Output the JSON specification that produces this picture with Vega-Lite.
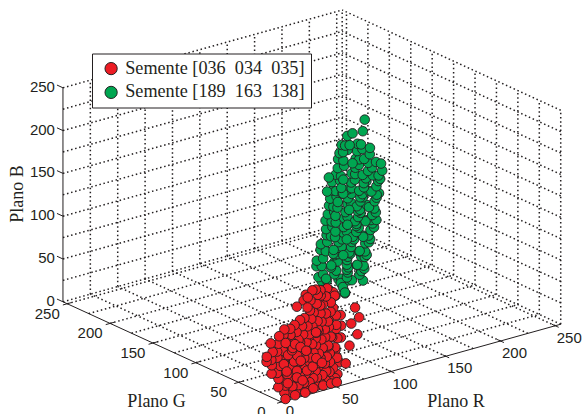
{"$schema":"https://vega.github.io/schema/vega-lite/v6.json","width":584,"height":414,"autosize":"none","padding":0,"background":"white","config":{"view":{"stroke":null}},
"datasets":{
"gridlines":[
{"r1":25,"g1":0,"b1":0,"r2":25,"g2":255,"b2":0},{"r1":50,"g1":0,"b1":0,"r2":50,"g2":255,"b2":0},{"r1":75,"g1":0,"b1":0,"r2":75,"g2":255,"b2":0},{"r1":100,"g1":0,"b1":0,"r2":100,"g2":255,"b2":0},{"r1":125,"g1":0,"b1":0,"r2":125,"g2":255,"b2":0},{"r1":150,"g1":0,"b1":0,"r2":150,"g2":255,"b2":0},{"r1":175,"g1":0,"b1":0,"r2":175,"g2":255,"b2":0},{"r1":200,"g1":0,"b1":0,"r2":200,"g2":255,"b2":0},{"r1":225,"g1":0,"b1":0,"r2":225,"g2":255,"b2":0},{"r1":250,"g1":0,"b1":0,"r2":250,"g2":255,"b2":0},{"r1":255,"g1":0,"b1":0,"r2":255,"g2":255,"b2":0},
{"r1":0,"g1":25,"b1":0,"r2":255,"g2":25,"b2":0},{"r1":0,"g1":50,"b1":0,"r2":255,"g2":50,"b2":0},{"r1":0,"g1":75,"b1":0,"r2":255,"g2":75,"b2":0},{"r1":0,"g1":100,"b1":0,"r2":255,"g2":100,"b2":0},{"r1":0,"g1":125,"b1":0,"r2":255,"g2":125,"b2":0},{"r1":0,"g1":150,"b1":0,"r2":255,"g2":150,"b2":0},{"r1":0,"g1":175,"b1":0,"r2":255,"g2":175,"b2":0},{"r1":0,"g1":200,"b1":0,"r2":255,"g2":200,"b2":0},{"r1":0,"g1":225,"b1":0,"r2":255,"g2":225,"b2":0},{"r1":0,"g1":250,"b1":0,"r2":255,"g2":250,"b2":0},{"r1":0,"g1":255,"b1":0,"r2":255,"g2":255,"b2":0},
{"r1":25,"g1":255,"b1":0,"r2":25,"g2":255,"b2":250},{"r1":50,"g1":255,"b1":0,"r2":50,"g2":255,"b2":250},{"r1":75,"g1":255,"b1":0,"r2":75,"g2":255,"b2":250},{"r1":100,"g1":255,"b1":0,"r2":100,"g2":255,"b2":250},{"r1":125,"g1":255,"b1":0,"r2":125,"g2":255,"b2":250},{"r1":150,"g1":255,"b1":0,"r2":150,"g2":255,"b2":250},{"r1":175,"g1":255,"b1":0,"r2":175,"g2":255,"b2":250},{"r1":200,"g1":255,"b1":0,"r2":200,"g2":255,"b2":250},{"r1":225,"g1":255,"b1":0,"r2":225,"g2":255,"b2":250},{"r1":250,"g1":255,"b1":0,"r2":250,"g2":255,"b2":250},{"r1":255,"g1":255,"b1":0,"r2":255,"g2":255,"b2":250},
{"r1":0,"g1":255,"b1":25,"r2":255,"g2":255,"b2":25},{"r1":0,"g1":255,"b1":50,"r2":255,"g2":255,"b2":50},{"r1":0,"g1":255,"b1":75,"r2":255,"g2":255,"b2":75},{"r1":0,"g1":255,"b1":100,"r2":255,"g2":255,"b2":100},{"r1":0,"g1":255,"b1":125,"r2":255,"g2":255,"b2":125},{"r1":0,"g1":255,"b1":150,"r2":255,"g2":255,"b2":150},{"r1":0,"g1":255,"b1":175,"r2":255,"g2":255,"b2":175},{"r1":0,"g1":255,"b1":200,"r2":255,"g2":255,"b2":200},{"r1":0,"g1":255,"b1":225,"r2":255,"g2":255,"b2":225},{"r1":0,"g1":255,"b1":250,"r2":255,"g2":255,"b2":250},
{"r1":255,"g1":0,"b1":0,"r2":255,"g2":0,"b2":250},{"r1":255,"g1":25,"b1":0,"r2":255,"g2":25,"b2":250},{"r1":255,"g1":50,"b1":0,"r2":255,"g2":50,"b2":250},{"r1":255,"g1":75,"b1":0,"r2":255,"g2":75,"b2":250},{"r1":255,"g1":100,"b1":0,"r2":255,"g2":100,"b2":250},{"r1":255,"g1":125,"b1":0,"r2":255,"g2":125,"b2":250},{"r1":255,"g1":150,"b1":0,"r2":255,"g2":150,"b2":250},{"r1":255,"g1":175,"b1":0,"r2":255,"g2":175,"b2":250},{"r1":255,"g1":200,"b1":0,"r2":255,"g2":200,"b2":250},{"r1":255,"g1":225,"b1":0,"r2":255,"g2":225,"b2":250},{"r1":255,"g1":250,"b1":0,"r2":255,"g2":250,"b2":250},
{"r1":255,"g1":0,"b1":25,"r2":255,"g2":255,"b2":25},{"r1":255,"g1":0,"b1":50,"r2":255,"g2":255,"b2":50},{"r1":255,"g1":0,"b1":75,"r2":255,"g2":255,"b2":75},{"r1":255,"g1":0,"b1":100,"r2":255,"g2":255,"b2":100},{"r1":255,"g1":0,"b1":125,"r2":255,"g2":255,"b2":125},{"r1":255,"g1":0,"b1":150,"r2":255,"g2":255,"b2":150},{"r1":255,"g1":0,"b1":175,"r2":255,"g2":255,"b2":175},{"r1":255,"g1":0,"b1":200,"r2":255,"g2":255,"b2":200},{"r1":255,"g1":0,"b1":225,"r2":255,"g2":255,"b2":225},{"r1":255,"g1":0,"b1":250,"r2":255,"g2":255,"b2":250}
],
"axislines":[
{"r1":0,"g1":0,"b1":0,"r2":255,"g2":0,"b2":0},{"r1":0,"g1":0,"b1":0,"r2":0,"g2":255,"b2":0},{"r1":0,"g1":255,"b1":0,"r2":0,"g2":255,"b2":250},
{"r1":-4,"g1":0,"b1":0,"r2":3,"g2":0,"b2":0},{"r1":-4,"g1":50,"b1":0,"r2":4,"g2":50,"b2":0},{"r1":-4,"g1":100,"b1":0,"r2":4,"g2":100,"b2":0},{"r1":-4,"g1":150,"b1":0,"r2":4,"g2":150,"b2":0},{"r1":-4,"g1":200,"b1":0,"r2":4,"g2":200,"b2":0},{"r1":-4,"g1":250,"b1":0,"r2":4,"g2":250,"b2":0},
{"r1":50,"g1":-4,"b1":0,"r2":50,"g2":4,"b2":0},{"r1":100,"g1":-4,"b1":0,"r2":100,"g2":4,"b2":0},{"r1":150,"g1":-4,"b1":0,"r2":150,"g2":4,"b2":0},{"r1":200,"g1":-4,"b1":0,"r2":200,"g2":4,"b2":0},{"r1":250,"g1":-4,"b1":0,"r2":250,"g2":4,"b2":0},
{"r1":0,"g1":255,"b1":0,"r2":0,"g2":262,"b2":0},{"r1":0,"g1":255,"b1":50,"r2":0,"g2":262,"b2":50},{"r1":0,"g1":255,"b1":100,"r2":0,"g2":262,"b2":100},{"r1":0,"g1":255,"b1":150,"r2":0,"g2":262,"b2":150},{"r1":0,"g1":255,"b1":200,"r2":0,"g2":262,"b2":200},{"r1":0,"g1":255,"b1":250,"r2":0,"g2":262,"b2":250}
],
"pts":[
{"seed":"189","R":107,"G":90,"B":62},{"seed":"189","R":104,"G":80,"B":68},{"seed":"189","R":110,"G":74,"B":70},{"seed":"189","R":106,"G":66,"B":76},{"seed":"189","R":108,"G":60,"B":76},{"seed":"189","R":105,"G":52,"B":81},{"seed":"189","R":112,"G":48,"B":80},{"seed":"189","R":109,"G":70,"B":68},{"seed":"189","R":103,"G":60,"B":70},{"seed":"189","R":100,"G":72,"B":62},{"seed":"189","R":105,"G":60,"B":62},{"seed":"189","R":102,"G":74,"B":56},{"seed":"189","R":98,"G":78,"B":60},{"seed":"189","R":101,"G":66,"B":58},{"seed":"189","R":108,"G":64,"B":60},
{"seed":"189","R":112,"G":100,"B":60},{"seed":"189","R":110,"G":92,"B":68},{"seed":"189","R":114,"G":84,"B":70},{"seed":"189","R":111,"G":78,"B":78},{"seed":"189","R":113,"G":68,"B":74},{"seed":"189","R":109,"G":62,"B":84},{"seed":"189","R":115,"G":56,"B":82},{"seed":"189","R":112,"G":50,"B":90},{"seed":"189","R":108,"G":86,"B":66},{"seed":"189","R":116,"G":72,"B":80},
{"seed":"189","R":118,"G":110,"B":66},{"seed":"189","R":115,"G":100,"B":72},{"seed":"189","R":120,"G":92,"B":78},{"seed":"189","R":117,"G":84,"B":84},{"seed":"189","R":122,"G":78,"B":78},{"seed":"189","R":116,"G":72,"B":86},{"seed":"189","R":119,"G":64,"B":88},{"seed":"189","R":121,"G":58,"B":86},{"seed":"189","R":118,"G":55,"B":92},{"seed":"189","R":114,"G":88,"B":76},{"seed":"189","R":124,"G":70,"B":84},
{"seed":"189","R":123,"G":116,"B":68},{"seed":"189","R":121,"G":106,"B":76},{"seed":"189","R":125,"G":98,"B":82},{"seed":"189","R":122,"G":90,"B":88},{"seed":"189","R":124,"G":82,"B":84},{"seed":"189","R":120,"G":76,"B":92},{"seed":"189","R":126,"G":68,"B":94},{"seed":"189","R":123,"G":60,"B":98},{"seed":"189","R":119,"G":94,"B":74},{"seed":"189","R":127,"G":86,"B":90},
{"seed":"189","R":128,"G":118,"B":78},{"seed":"189","R":125,"G":108,"B":82},{"seed":"189","R":130,"G":100,"B":88},{"seed":"189","R":127,"G":92,"B":94},{"seed":"189","R":132,"G":88,"B":86},{"seed":"189","R":126,"G":82,"B":92},{"seed":"189","R":129,"G":74,"B":96},{"seed":"189","R":131,"G":68,"B":94},{"seed":"189","R":128,"G":66,"B":100},{"seed":"189","R":124,"G":98,"B":84},{"seed":"189","R":134,"G":80,"B":92},{"seed":"189","R":130,"G":94,"B":82},
{"seed":"189","R":133,"G":124,"B":80},{"seed":"189","R":131,"G":114,"B":88},{"seed":"189","R":135,"G":106,"B":90},{"seed":"189","R":132,"G":98,"B":98},{"seed":"189","R":134,"G":90,"B":92},{"seed":"189","R":130,"G":84,"B":102},{"seed":"189","R":136,"G":76,"B":102},{"seed":"189","R":133,"G":68,"B":108},{"seed":"189","R":129,"G":104,"B":84},{"seed":"189","R":137,"G":92,"B":100},
{"seed":"189","R":139,"G":125,"B":88},{"seed":"189","R":136,"G":116,"B":92},{"seed":"189","R":141,"G":108,"B":98},{"seed":"189","R":138,"G":100,"B":104},{"seed":"189","R":143,"G":98,"B":94},{"seed":"189","R":137,"G":92,"B":102},{"seed":"189","R":140,"G":84,"B":106},{"seed":"189","R":142,"G":78,"B":104},{"seed":"189","R":139,"G":76,"B":110},{"seed":"189","R":135,"G":110,"B":94},{"seed":"189","R":145,"G":90,"B":100},{"seed":"189","R":141,"G":104,"B":92},
{"seed":"189","R":144,"G":132,"B":90},{"seed":"189","R":142,"G":122,"B":98},{"seed":"189","R":146,"G":114,"B":100},{"seed":"189","R":143,"G":106,"B":108},{"seed":"189","R":145,"G":98,"B":102},{"seed":"189","R":141,"G":90,"B":112},{"seed":"189","R":147,"G":84,"B":110},{"seed":"189","R":144,"G":76,"B":118},{"seed":"189","R":140,"G":116,"B":96},{"seed":"189","R":148,"G":102,"B":106},
{"seed":"189","R":149,"G":139,"B":95},{"seed":"189","R":146,"G":128,"B":100},{"seed":"189","R":151,"G":120,"B":106},{"seed":"189","R":148,"G":112,"B":112},{"seed":"189","R":153,"G":108,"B":104},{"seed":"189","R":147,"G":102,"B":112},{"seed":"189","R":150,"G":94,"B":116},{"seed":"189","R":152,"G":88,"B":114},{"seed":"189","R":149,"G":86,"B":120},{"seed":"189","R":145,"G":122,"B":102},{"seed":"189","R":155,"G":100,"B":110},{"seed":"189","R":151,"G":116,"B":100},{"seed":"189","R":150,"G":81,"B":122},
{"seed":"189","R":155,"G":144,"B":98},{"seed":"189","R":153,"G":134,"B":106},{"seed":"189","R":157,"G":126,"B":108},{"seed":"189","R":154,"G":118,"B":116},{"seed":"189","R":156,"G":110,"B":110},{"seed":"189","R":152,"G":102,"B":120},{"seed":"189","R":158,"G":96,"B":118},{"seed":"189","R":155,"G":88,"B":126},{"seed":"189","R":151,"G":130,"B":104},{"seed":"189","R":159,"G":114,"B":114},
{"seed":"189","R":160,"G":149,"B":104},{"seed":"189","R":157,"G":140,"B":108},{"seed":"189","R":162,"G":130,"B":114},{"seed":"189","R":159,"G":122,"B":120},{"seed":"189","R":164,"G":118,"B":112},{"seed":"189","R":158,"G":114,"B":120},{"seed":"189","R":161,"G":106,"B":124},{"seed":"189","R":163,"G":100,"B":122},{"seed":"189","R":156,"G":134,"B":110},{"seed":"189","R":166,"G":110,"B":118},{"seed":"189","R":162,"G":128,"B":108},{"seed":"189","R":172,"G":106,"B":134},
{"seed":"189","R":165,"G":154,"B":108},{"seed":"189","R":163,"G":144,"B":116},{"seed":"189","R":167,"G":136,"B":116},{"seed":"189","R":164,"G":128,"B":126},{"seed":"189","R":166,"G":120,"B":120},{"seed":"189","R":162,"G":112,"B":130},{"seed":"189","R":168,"G":106,"B":126},{"seed":"189","R":165,"G":100,"B":134},{"seed":"189","R":161,"G":140,"B":112},{"seed":"189","R":169,"G":124,"B":122},
{"seed":"189","R":170,"G":158,"B":114},{"seed":"189","R":167,"G":150,"B":118},{"seed":"189","R":172,"G":142,"B":122},{"seed":"189","R":169,"G":134,"B":128},{"seed":"189","R":174,"G":128,"B":122},{"seed":"189","R":168,"G":124,"B":130},{"seed":"189","R":171,"G":116,"B":132},{"seed":"189","R":173,"G":110,"B":130},{"seed":"189","R":170,"G":146,"B":116},{"seed":"189","R":166,"G":140,"B":120},{"seed":"189","R":176,"G":120,"B":128},{"seed":"189","R":170,"G":164,"B":110},
{"seed":"189","R":176,"G":166,"B":118},{"seed":"189","R":174,"G":154,"B":126},{"seed":"189","R":178,"G":146,"B":126},{"seed":"189","R":175,"G":138,"B":134},{"seed":"189","R":177,"G":130,"B":128},{"seed":"189","R":173,"G":122,"B":140},{"seed":"189","R":179,"G":118,"B":134},{"seed":"189","R":176,"G":112,"B":144},{"seed":"189","R":172,"G":150,"B":120},{"seed":"189","R":180,"G":134,"B":130},
{"seed":"189","R":181,"G":168,"B":124},{"seed":"189","R":178,"G":158,"B":128},{"seed":"189","R":183,"G":152,"B":132},{"seed":"189","R":180,"G":144,"B":136},{"seed":"189","R":185,"G":138,"B":132},{"seed":"189","R":179,"G":134,"B":140},{"seed":"189","R":182,"G":126,"B":142},{"seed":"189","R":184,"G":120,"B":140},{"seed":"189","R":181,"G":118,"B":146},{"seed":"189","R":177,"G":154,"B":126},{"seed":"189","R":181,"G":176,"B":117},
{"seed":"189","R":186,"G":172,"B":128},{"seed":"189","R":184,"G":162,"B":136},{"seed":"189","R":188,"G":154,"B":136},{"seed":"189","R":185,"G":146,"B":144},{"seed":"189","R":187,"G":138,"B":140},{"seed":"189","R":183,"G":128,"B":150},{"seed":"189","R":189,"G":124,"B":146},
{"seed":"189","R":191,"G":178,"B":134},{"seed":"189","R":188,"G":168,"B":138},{"seed":"189","R":193,"G":160,"B":142},{"seed":"189","R":190,"G":152,"B":146},{"seed":"189","R":195,"G":148,"B":142},{"seed":"189","R":189,"G":145,"B":150},{"seed":"189","R":192,"G":135,"B":150},{"seed":"189","R":194,"G":165,"B":134},{"seed":"189","R":195,"G":133,"B":148},
{"seed":"189","R":197,"G":184,"B":136},{"seed":"189","R":195,"G":172,"B":146},{"seed":"189","R":199,"G":166,"B":146},{"seed":"189","R":196,"G":156,"B":154},{"seed":"189","R":198,"G":150,"B":150},{"seed":"189","R":194,"G":176,"B":142},
{"seed":"189","R":202,"G":188,"B":142},{"seed":"189","R":199,"G":180,"B":146},{"seed":"189","R":204,"G":172,"B":150},{"seed":"189","R":201,"G":164,"B":154},{"seed":"189","R":206,"G":160,"B":150},{"seed":"189","R":200,"G":176,"B":148},{"seed":"189","R":208,"G":189,"B":150},{"seed":"189","R":212,"G":188,"B":152},{"seed":"189","R":212,"G":176,"B":160},{"seed":"189","R":220,"G":184,"B":167},
{"seed":"036","R":66,"G":15,"B":45},{"seed":"036","R":67,"G":16,"B":58},{"seed":"036","R":65,"G":14,"B":72},{"seed":"036","R":50,"G":8,"B":108},{"seed":"036","R":55,"G":10,"B":104},{"seed":"036","R":58,"G":12,"B":98},{"seed":"036","R":48,"G":8,"B":112},{"seed":"036","R":30,"G":10,"B":110},{"seed":"036","R":28,"G":10,"B":104},
{"seed":"036","R":62,"G":14,"B":4},{"seed":"036","R":63,"G":13,"B":18},{"seed":"036","R":61,"G":15,"B":32},{"seed":"036","R":62,"G":14,"B":46},{"seed":"036","R":60,"G":13,"B":58},
{"seed":"036","R":60,"G":14,"B":0},{"seed":"036","R":59,"G":15,"B":12},{"seed":"036","R":61,"G":13,"B":24},{"seed":"036","R":60,"G":14,"B":36},{"seed":"036","R":58,"G":15,"B":48},{"seed":"036","R":61,"G":14,"B":62},{"seed":"036","R":60,"G":13,"B":74},{"seed":"036","R":59,"G":15,"B":82},
{"seed":"036","R":55,"G":14,"B":0},{"seed":"036","R":54,"G":13,"B":10},{"seed":"036","R":56,"G":15,"B":20},{"seed":"036","R":55,"G":14,"B":31},{"seed":"036","R":53,"G":13,"B":40},{"seed":"036","R":56,"G":14,"B":50},{"seed":"036","R":55,"G":15,"B":61},{"seed":"036","R":54,"G":14,"B":70},{"seed":"036","R":55,"G":13,"B":80},{"seed":"036","R":56,"G":14,"B":90},
{"seed":"036","R":50,"G":12,"B":2},{"seed":"036","R":51,"G":13,"B":12},{"seed":"036","R":49,"G":12,"B":22},{"seed":"036","R":50,"G":11,"B":30},{"seed":"036","R":52,"G":12,"B":42},{"seed":"036","R":50,"G":13,"B":52},{"seed":"036","R":49,"G":12,"B":62},{"seed":"036","R":51,"G":11,"B":71},{"seed":"036","R":50,"G":12,"B":80},{"seed":"036","R":48,"G":13,"B":91},{"seed":"036","R":50,"G":12,"B":100},
{"seed":"036","R":45,"G":12,"B":1},{"seed":"036","R":46,"G":11,"B":10},{"seed":"036","R":44,"G":13,"B":20},{"seed":"036","R":45,"G":12,"B":30},{"seed":"036","R":47,"G":12,"B":41},{"seed":"036","R":45,"G":11,"B":52},{"seed":"036","R":44,"G":13,"B":61},{"seed":"036","R":46,"G":12,"B":72},{"seed":"036","R":45,"G":12,"B":82},{"seed":"036","R":44,"G":11,"B":92},{"seed":"036","R":46,"G":13,"B":102},{"seed":"036","R":45,"G":12,"B":109},
{"seed":"036","R":40,"G":10,"B":0},{"seed":"036","R":41,"G":11,"B":9},{"seed":"036","R":39,"G":10,"B":18},{"seed":"036","R":40,"G":9,"B":27},{"seed":"036","R":42,"G":10,"B":37},{"seed":"036","R":40,"G":11,"B":47},{"seed":"036","R":39,"G":10,"B":56},{"seed":"036","R":41,"G":10,"B":66},{"seed":"036","R":40,"G":9,"B":76},{"seed":"036","R":38,"G":11,"B":86},{"seed":"036","R":40,"G":10,"B":96},{"seed":"036","R":41,"G":10,"B":106},{"seed":"036","R":40,"G":11,"B":112},
{"seed":"036","R":35,"G":10,"B":1},{"seed":"036","R":36,"G":9,"B":11},{"seed":"036","R":34,"G":11,"B":20},{"seed":"036","R":35,"G":10,"B":31},{"seed":"036","R":37,"G":10,"B":40},{"seed":"036","R":35,"G":9,"B":51},{"seed":"036","R":34,"G":11,"B":60},{"seed":"036","R":36,"G":10,"B":71},{"seed":"036","R":35,"G":10,"B":80},{"seed":"036","R":33,"G":9,"B":91},{"seed":"036","R":35,"G":11,"B":101},{"seed":"036","R":36,"G":10,"B":113},
{"seed":"036","R":30,"G":8,"B":0},{"seed":"036","R":31,"G":7,"B":9},{"seed":"036","R":29,"G":9,"B":18},{"seed":"036","R":30,"G":8,"B":28},{"seed":"036","R":32,"G":8,"B":37},{"seed":"036","R":30,"G":9,"B":46},{"seed":"036","R":29,"G":8,"B":56},{"seed":"036","R":31,"G":7,"B":65},{"seed":"036","R":30,"G":8,"B":74},{"seed":"036","R":28,"G":9,"B":84},{"seed":"036","R":30,"G":8,"B":96},{"seed":"036","R":31,"G":9,"B":107},
{"seed":"036","R":25,"G":8,"B":1},{"seed":"036","R":26,"G":7,"B":10},{"seed":"036","R":24,"G":9,"B":19},{"seed":"036","R":25,"G":8,"B":28},{"seed":"036","R":27,"G":8,"B":38},{"seed":"036","R":25,"G":7,"B":47},{"seed":"036","R":24,"G":9,"B":57},{"seed":"036","R":26,"G":8,"B":66},{"seed":"036","R":25,"G":8,"B":76},{"seed":"036","R":24,"G":9,"B":83},
{"seed":"036","R":20,"G":8,"B":0},{"seed":"036","R":21,"G":7,"B":9},{"seed":"036","R":19,"G":9,"B":17},{"seed":"036","R":20,"G":8,"B":26},{"seed":"036","R":22,"G":8,"B":35},{"seed":"036","R":20,"G":9,"B":44},{"seed":"036","R":19,"G":8,"B":53},{"seed":"036","R":21,"G":7,"B":62},{"seed":"036","R":20,"G":8,"B":71},{"seed":"036","R":19,"G":9,"B":79},
{"seed":"036","R":16,"G":10,"B":0},{"seed":"036","R":17,"G":9,"B":8},{"seed":"036","R":15,"G":11,"B":16},{"seed":"036","R":16,"G":10,"B":25},{"seed":"036","R":18,"G":10,"B":33},{"seed":"036","R":16,"G":9,"B":42},{"seed":"036","R":15,"G":11,"B":51},{"seed":"036","R":17,"G":10,"B":60},{"seed":"036","R":16,"G":10,"B":68},{"seed":"036","R":15,"G":9,"B":76},
{"seed":"036","R":12,"G":12,"B":1},{"seed":"036","R":13,"G":12,"B":9},{"seed":"036","R":11,"G":13,"B":18},{"seed":"036","R":12,"G":11,"B":26},{"seed":"036","R":13,"G":13,"B":34},{"seed":"036","R":12,"G":12,"B":42},{"seed":"036","R":11,"G":12,"B":50},{"seed":"036","R":13,"G":11,"B":60},{"seed":"036","R":12,"G":13,"B":68},{"seed":"036","R":12,"G":12,"B":75},
{"seed":"036","R":8,"G":14,"B":8},{"seed":"036","R":9,"G":15,"B":17},{"seed":"036","R":7,"G":14,"B":25},{"seed":"036","R":9,"G":13,"B":33},{"seed":"036","R":8,"G":15,"B":42},{"seed":"036","R":7,"G":14,"B":50},{"seed":"036","R":9,"G":15,"B":58},{"seed":"036","R":8,"G":13,"B":68},
{"seed":"036","R":5,"G":18,"B":23},{"seed":"036","R":6,"G":19,"B":32},{"seed":"036","R":4,"G":17,"B":40},{"seed":"036","R":6,"G":18,"B":48},{"seed":"036","R":5,"G":19,"B":58},{"seed":"036","R":2,"G":20,"B":37},{"seed":"036","R":3,"G":21,"B":42},
{"seed":"036","R":14,"G":11,"B":22},{"seed":"036","R":18,"G":12,"B":30},{"seed":"036","R":22,"G":10,"B":24},{"seed":"036","R":10,"G":10,"B":36},{"seed":"036","R":17,"G":7,"B":38},{"seed":"036","R":23,"G":11,"B":41},{"seed":"036","R":13,"G":9,"B":46},{"seed":"036","R":19,"G":12,"B":48},{"seed":"036","R":27,"G":12,"B":33},{"seed":"036","R":11,"G":8,"B":28},{"seed":"036","R":15,"G":6,"B":55},{"seed":"036","R":21,"G":11,"B":55},{"seed":"036","R":26,"G":11,"B":50},{"seed":"036","R":18,"G":5,"B":20},{"seed":"036","R":24,"G":6,"B":14},{"seed":"036","R":14,"G":13,"B":58},{"seed":"036","R":28,"G":6,"B":24},{"seed":"036","R":32,"G":12,"B":43},{"seed":"036","R":12,"G":8,"B":14},{"seed":"036","R":34,"G":7,"B":26},{"seed":"036","R":38,"G":8,"B":34},{"seed":"036","R":44,"G":9,"B":26},{"seed":"036","R":42,"G":13,"B":60},{"seed":"036","R":37,"G":7,"B":65},
{"seed":"036","R":6,"G":3,"B":0},{"seed":"036","R":14,"G":2,"B":2},{"seed":"036","R":24,"G":3,"B":1},{"seed":"036","R":33,"G":5,"B":2},{"seed":"036","R":42,"G":5,"B":2},{"seed":"036","R":50,"G":6,"B":1},{"seed":"036","R":56,"G":7,"B":0},
{"seed":"036","R":25,"G":14,"B":96},{"seed":"036","R":75,"G":10,"B":79},{"seed":"036","R":78,"G":9,"B":67},{"seed":"036","R":70,"G":8,"B":63},{"seed":"036","R":74,"G":6,"B":50},{"seed":"036","R":66,"G":5,"B":40},{"seed":"036","R":61,"G":3,"B":22}
],
"ticksG":[
{"R":0,"G":50,"B":0,"label":"50"},{"R":0,"G":100,"B":0,"label":"100"},{"R":0,"G":150,"B":0,"label":"150"},{"R":0,"G":200,"B":0,"label":"200"},{"R":0,"G":250,"B":0,"label":"250"},{"R":0,"G":0,"B":0,"label":"0"}
],
"ticksR":[
{"R":50,"G":0,"B":0,"label":"50"},{"R":100,"G":0,"B":0,"label":"100"},{"R":150,"G":0,"B":0,"label":"150"},{"R":200,"G":0,"B":0,"label":"200"},{"R":250,"G":0,"B":0,"label":"250"}
],
"ticksR0":[{"R":0,"G":0,"B":0,"label":"0"}],
"ticksB":[
{"R":0,"G":255,"B":0,"label":"0"},{"R":0,"G":255,"B":50,"label":"50"},{"R":0,"G":255,"B":100,"label":"100"},{"R":0,"G":255,"B":150,"label":"150"},{"R":0,"G":255,"B":200,"label":"200"},{"R":0,"G":255,"B":250,"label":"250"}
],
"titlesGR":[{"R":-71,"G":55,"B":0,"label":"Plano G"},{"R":99,"G":-77,"B":0,"label":"Plano R"}],
"titleB":[{"R":0,"G":307,"B":102,"label":"Plano B"}]
},
"layer":[
{"data":{"name":"gridlines"},"transform":[{"calculate":"281.5+1.095*datum.r1-0.857*datum.g1","as":"ax"},{"calculate":"402-0.305*datum.r1-0.393*datum.g1-0.856*datum.b1","as":"ay"},{"calculate":"281.5+1.095*datum.r2-0.857*datum.g2","as":"bx"},{"calculate":"402-0.305*datum.r2-0.393*datum.g2-0.856*datum.b2","as":"by"}],
"mark":{"type":"rule","stroke":"#231f20","strokeWidth":1.5,"strokeDash":[1.5,2.7]},
"encoding":{"x":{"field":"ax","type":"quantitative","scale":{"domain":[0,584],"nice":false,"zero":false},"axis":null},"y":{"field":"ay","type":"quantitative","scale":{"domain":[414,0],"nice":false,"zero":false},"axis":null},"x2":{"field":"bx"},"y2":{"field":"by"}}},
{"data":{"name":"axislines"},"transform":[{"calculate":"281.5+1.095*datum.r1-0.857*datum.g1","as":"ax"},{"calculate":"402-0.305*datum.r1-0.393*datum.g1-0.856*datum.b1","as":"ay"},{"calculate":"281.5+1.095*datum.r2-0.857*datum.g2","as":"bx"},{"calculate":"402-0.305*datum.r2-0.393*datum.g2-0.856*datum.b2","as":"by"}],
"mark":{"type":"rule","stroke":"#231f20","strokeWidth":1},
"encoding":{"x":{"field":"ax","type":"quantitative","axis":null},"y":{"field":"ay","type":"quantitative","axis":null},"x2":{"field":"bx"},"y2":{"field":"by"}}},
{"data":{"name":"pts"},"transform":[{"calculate":"281.5+1.095*datum.R-0.857*datum.G","as":"sx"},{"calculate":"402-0.305*datum.R-0.393*datum.G-0.856*datum.B","as":"sy"}],
"mark":{"type":"point","filled":true,"opacity":1,"size":92,"stroke":"#231f20","strokeWidth":0.9},
"encoding":{"x":{"field":"sx","type":"quantitative","axis":null},"y":{"field":"sy","type":"quantitative","axis":null},
"color":{"field":"seed","type":"nominal","scale":{"domain":["036","189"],"range":["#ed1c24","#00a651"]},
"legend":{"orient":"none","legendX":92,"legendY":53.5,"title":null,"padding":6,"fillColor":"white","strokeColor":"#231f20","symbolType":"circle","symbolSize":150,"symbolStrokeColor":"#231f20","symbolStrokeWidth":1,"symbolOffset":4,"labelFont":"Liberation Serif","labelFontSize":18.2,"labelColor":"#231f20","labelOffset":5,"rowPadding":4.8,"labelLimit":300,"labelExpr":"datum.label=='036'?'Semente [036\u00a0\u00a0034\u00a0\u00a0035]':'Semente [189\u00a0\u00a0163\u00a0\u00a0138]'"}}}},
{"data":{"name":"ticksG"},"transform":[{"calculate":"281.5+1.095*datum.R-0.857*datum.G","as":"sx"},{"calculate":"402-0.305*datum.R-0.393*datum.G-0.856*datum.B","as":"sy"}],
"mark":{"type":"text","font":"Liberation Sans","fontSize":15,"color":"#231f20","dx":-20,"dy":10,"align":"center","baseline":"middle"},
"encoding":{"x":{"field":"sx","type":"quantitative","axis":null},"y":{"field":"sy","type":"quantitative","axis":null},"text":{"field":"label"}}},
{"data":{"name":"ticksR"},"transform":[{"calculate":"281.5+1.095*datum.R-0.857*datum.G","as":"sx"},{"calculate":"402-0.305*datum.R-0.393*datum.G-0.856*datum.B","as":"sy"}],
"mark":{"type":"text","font":"Liberation Sans","fontSize":15,"color":"#231f20","dx":14,"dy":12,"align":"center","baseline":"middle"},
"encoding":{"x":{"field":"sx","type":"quantitative","axis":null},"y":{"field":"sy","type":"quantitative","axis":null},"text":{"field":"label"}}},
{"data":{"name":"ticksR0"},"transform":[{"calculate":"281.5+1.095*datum.R-0.857*datum.G","as":"sx"},{"calculate":"402-0.305*datum.R-0.393*datum.G-0.856*datum.B","as":"sy"}],
"mark":{"type":"text","font":"Liberation Sans","fontSize":15,"color":"#231f20","dx":8.5,"dy":9,"align":"center","baseline":"middle"},
"encoding":{"x":{"field":"sx","type":"quantitative","axis":null},"y":{"field":"sy","type":"quantitative","axis":null},"text":{"field":"label"}}},
{"data":{"name":"ticksB"},"transform":[{"calculate":"281.5+1.095*datum.R-0.857*datum.G","as":"sx"},{"calculate":"402-0.305*datum.R-0.393*datum.G-0.856*datum.B","as":"sy"}],
"mark":{"type":"text","font":"Liberation Sans","fontSize":15,"color":"#231f20","dx":-8,"dy":-1,"align":"right","baseline":"middle"},
"encoding":{"x":{"field":"sx","type":"quantitative","axis":null},"y":{"field":"sy","type":"quantitative","axis":null},"text":{"field":"label"}}},
{"data":{"name":"titlesGR"},"transform":[{"calculate":"281.5+1.095*datum.R-0.857*datum.G","as":"sx"},{"calculate":"402-0.305*datum.R-0.393*datum.G-0.856*datum.B","as":"sy"}],
"mark":{"type":"text","font":"Liberation Serif","fontSize":18,"color":"#231f20","align":"center","baseline":"middle"},
"encoding":{"x":{"field":"sx","type":"quantitative","axis":null},"y":{"field":"sy","type":"quantitative","axis":null},"text":{"field":"label"}}},
{"data":{"name":"titleB"},"transform":[{"calculate":"281.5+1.095*datum.R-0.857*datum.G","as":"sx"},{"calculate":"402-0.305*datum.R-0.393*datum.G-0.856*datum.B","as":"sy"}],
"mark":{"type":"text","font":"Liberation Serif","fontSize":18,"color":"#231f20","angle":270,"align":"center","baseline":"middle"},
"encoding":{"x":{"field":"sx","type":"quantitative","axis":null},"y":{"field":"sy","type":"quantitative","axis":null},"text":{"field":"label"}}}
]}
